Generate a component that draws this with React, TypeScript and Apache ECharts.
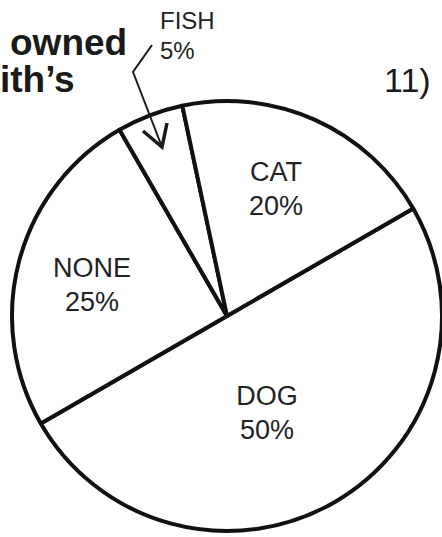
import React, { useEffect, useRef } from "react";
import * as echarts from "echarts";

// Data (clockwise from the DOG/CAT boundary)
const categories = ["DOG", "NONE", "FISH", "CAT"];
const percents = [50, 25, 5, 20];

// Label anchor points (pixels) for each slice's text block
const labelAnchors: Record<string, [number, number, "left" | "center"]> = {
  DOG: [267, 413, "center"],
  NONE: [92, 285, "center"],
  FISH: [160, 35, "left"],
  CAT: [276, 189, "center"],
};

const FONT = "'Liberation Sans', Arial, sans-serif";

export default function App() {
  const ref = useRef<HTMLDivElement>(null);
  useEffect(() => {
    if (!ref.current) return;
    const chart = echarts.init(ref.current, undefined, { renderer: "svg" });
    const data = categories.map((name, i) => ({
      name,
      value: percents[i],
      label:
        name === "FISH"
          ? { fontSize: 24, lineHeight: 30, align: "left" as const }
          : { fontSize: 27, lineHeight: 34, align: "center" as const },
    }));
    chart.setOption({
      animation: false,
      backgroundColor: "#ffffff",
      graphic: [
        {
          type: "text",
          x: 10,
          y: 42,
          style: {
            text: "owned",
            font: `bold 37px ${FONT}`,
            fill: "#1a1a1a",
            textVerticalAlign: "middle",
          },
        },
        {
          type: "text",
          x: 0,
          y: 79,
          style: {
            text: "ith’s",
            font: `bold 37px ${FONT}`,
            fill: "#1a1a1a",
            textVerticalAlign: "middle",
          },
        },
        {
          type: "text",
          x: 384,
          y: 80,
          style: {
            text: "11)",
            font: `34px ${FONT}`,
            fill: "#1a1a1a",
            textVerticalAlign: "middle",
          },
        },
        {
          type: "polyline",
          z: 100,
          shape: { points: [[152, 45], [133, 72], [162, 147]] },
          style: { stroke: "#1a1a1a", lineWidth: 2, fill: null },
        },
        {
          type: "polyline",
          z: 100,
          shape: { points: [[143, 131], [162, 147], [167, 123]] },
          style: { stroke: "#1a1a1a", lineWidth: 3.5, fill: null, lineJoin: "miter" },
        },
      ],
      series: [
        {
          type: "pie",
          center: [227, 316],
          radius: 215,
          startAngle: 30,
          clockwise: true,
          avoidLabelOverlap: false,
          silent: true,
          itemStyle: {
            color: "#ffffff",
            borderColor: "#111111",
            borderWidth: 4,
          },
          label: {
            show: true,
            position: "inside",
            formatter: "{b}\n{c}%",
            color: "#222222",
            fontFamily: FONT,
            fontSize: 27,
            lineHeight: 34,
          },
          labelLine: { show: false },
          labelLayout: (params: any) => {
            const name = categories[params.dataIndex];
            const a = labelAnchors[name];
            return {
              x: a[0],
              y: a[1],
              align: a[2],
              verticalAlign: "middle",
            };
          },
          emphasis: { disabled: true },
          data,
        },
      ],
    });
    return () => chart.dispose();
  }, []);
  return (
    <div
      ref={ref}
      style={{ position: "fixed", left: 0, top: 0, width: 442, height: 537 }}
    />
  );
}
